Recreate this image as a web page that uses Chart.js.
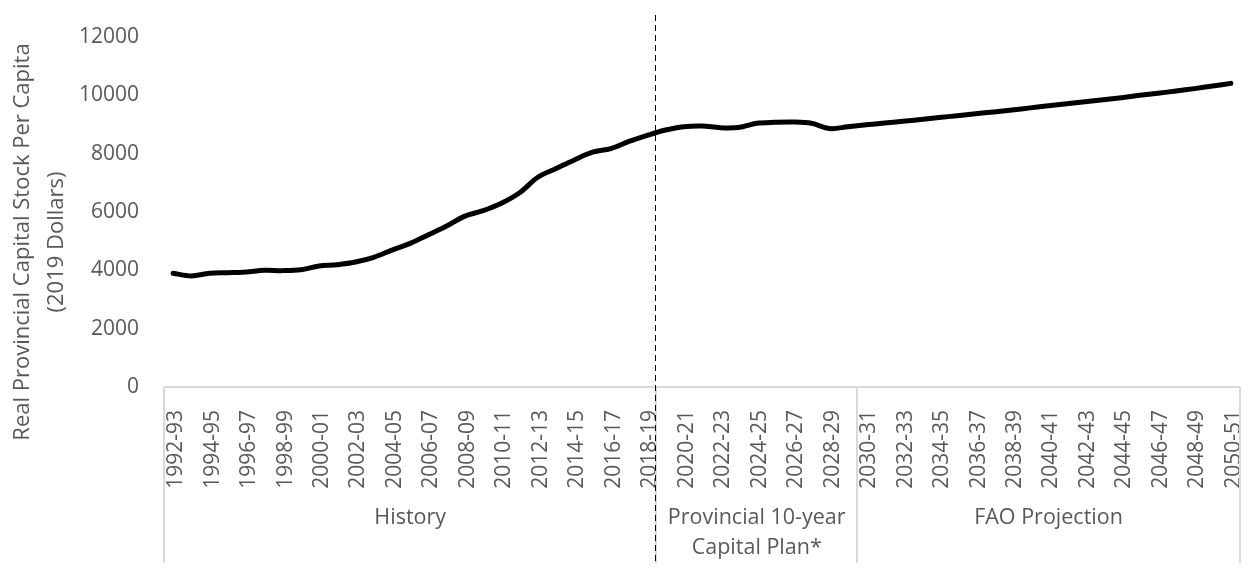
<!DOCTYPE html>
<html>
<head>
<meta charset="utf-8">
<title>Real Provincial Capital Stock Per Capita</title>
<script src="https://cdn.jsdelivr.net/npm/chart.js@4.4.1/dist/chart.umd.min.js"></script>
<style>
  html, body { margin: 0; padding: 0; background: #fff; }
  #wrap { width: 1254px; height: 583px; position: relative; }
</style>
</head>
<body>
<div id="wrap"><canvas id="stockChart"></canvas></div>
<script>
// ── Data ──
const years = [
    '1992-93', '1993-94', '1994-95', '1995-96', '1996-97', '1997-98', '1998-99', '1999-00',
    '2000-01', '2001-02', '2002-03', '2003-04', '2004-05', '2005-06', '2006-07', '2007-08',
    '2008-09', '2009-10', '2010-11', '2011-12', '2012-13', '2013-14', '2014-15', '2015-16',
    '2016-17', '2017-18', '2018-19', '2019-20', '2020-21', '2021-22', '2022-23', '2023-24',
    '2024-25', '2025-26', '2026-27', '2027-28', '2028-29', '2029-30', '2030-31', '2031-32',
    '2032-33', '2033-34', '2034-35', '2035-36', '2036-37', '2037-38', '2038-39', '2039-40',
    '2040-41', '2041-42', '2042-43', '2043-44', '2044-45', '2045-46', '2046-47', '2047-48',
    '2048-49', '2049-50', '2050-51'
];

const stockPerCapita = [
    3900, 3810, 3900, 3920, 3945, 4000, 3990, 4020,
    4150, 4195, 4285, 4445, 4695, 4925, 5220, 5520,
    5860, 6045, 6300, 6660, 7190, 7490, 7785, 8050,
    8175, 8420, 8630, 8810, 8925, 8950, 8890, 8900,
    9040, 9075, 9085, 9040, 8860, 8925, 8990, 9050,
    9110, 9170, 9240, 9300, 9370, 9430, 9500, 9570,
    9640, 9710, 9780, 9850, 9920, 10000, 10070, 10150,
    10230, 10320, 10410
];

const yTicks = [0, 2000, 4000, 6000, 8000, 10000, 12000];

const groupNames = [['History'], ['Provincial 10-year', 'Capital Plan*'], ['FAO Projection']];
const groupFirst = ['1992-93', '2019-20', '2030-31'];
const groupLast = ['2018-19', '2029-30', '2050-51'];
const dividerAfter = '2018-19';

const axisTitle = ['Real Provincial Capital Stock Per Capita', '(2019 Dollars)'];

// ── Style ──
const TEXT = '#595959';
const AXIS_GREY = '#d9d9d9';
const FONT = "'Open Sans', sans-serif";

// Grouped category axis, dashed divider and the two-line y title
const groupAxisPlugin = {
    id: 'groupAxis',
    afterDraw(chart) {
        const { ctx, chartArea, scales: { x } } = chart;
        const half = (x.getPixelForValue(1) - x.getPixelForValue(0)) / 2;
        const edge = i => x.getPixelForValue(i) - half;
        const base = chartArea.bottom;
        const boxBottom = base + 176;

        ctx.save();
        ctx.strokeStyle = AXIS_GREY;
        ctx.lineWidth = 2;
        ctx.beginPath();
        ctx.moveTo(chartArea.left, base);
        ctx.lineTo(chartArea.right, base);

        const cuts = new Set();
        groupFirst.forEach((f, g) => {
            cuts.add(years.indexOf(f));
            cuts.add(years.indexOf(groupLast[g]) + 1);
        });
        cuts.forEach(i => {
            const px = Math.round(edge(i));
            ctx.moveTo(px, base);
            ctx.lineTo(px, boxBottom);
        });
        ctx.stroke();

        // group labels
        ctx.fillStyle = TEXT;
        ctx.font = `21.5px ${FONT}`;
        ctx.textAlign = 'center';
        ctx.textBaseline = 'middle';
        groupNames.forEach((lines, g) => {
            const l = edge(years.indexOf(groupFirst[g]));
            const r = edge(years.indexOf(groupLast[g]) + 1);
            lines.forEach((t, k) => ctx.fillText(t, (l + r) / 2, base + 131 + k * 30));
        });

        // dashed divider between history and plan
        const dx = Math.round(edge(years.indexOf(dividerAfter) + 1)) - 0.5;
        ctx.strokeStyle = '#000';
        ctx.lineWidth = 1;
        ctx.setLineDash([6, 4]);
        ctx.beginPath();
        ctx.moveTo(dx, 15);
        ctx.lineTo(dx, boxBottom + 2);
        ctx.stroke();
        ctx.setLineDash([]);

        // y axis title
        const midY = (chartArea.top + chartArea.bottom) / 2 + 30;
        ctx.font = `22px ${FONT}`;
        [23, 57].forEach((tx, k) => {
            ctx.save();
            ctx.translate(tx, midY);
            ctx.rotate(-Math.PI / 2);
            ctx.fillText(axisTitle[k], 0, 0);
            ctx.restore();
        });
        ctx.restore();
    }
};

const ctx = document.getElementById('stockChart').getContext('2d');
new Chart(ctx, {
    type: 'line',
    data: {
        labels: years,
        datasets: [{
            label: 'Real Provincial Capital Stock Per Capita',
            data: stockPerCapita,
            borderColor: '#000',
            borderWidth: 5,
            pointRadius: 0,
            borderCapStyle: 'round',
            borderJoinStyle: 'round',
            tension: 0.35,
            fill: false
        }]
    },
    options: {
        responsive: true, maintainAspectRatio: false,
        animation: false,
        layout: { padding: { top: 37, right: 14, left: 0, bottom: 0 } },
        plugins: { legend: { display: false }, tooltip: { enabled: false } },
        scales: {
            x: {
                type: 'category',
                offset: true,
                grid: { display: false },
                border: { display: false },
                ticks: {
                    autoSkip: false, maxRotation: 90, minRotation: 90, padding: 15,
                    labelOffset: 3,
                    color: TEXT, font: { family: FONT, size: 21 },
                    callback: (v, i) => (i % 2 === 0 ? years[i] : '')
                },
                afterFit: s => { s.height = 196; s.paddingLeft = 0; s.paddingRight = 0; }
            },
            y: {
                min: yTicks[0], max: yTicks[yTicks.length - 1],
                grid: { display: false, drawTicks: false },
                border: { display: false },
                afterBuildTicks: s => { s.ticks = yTicks.map(v => ({ value: v })); },
                ticks: {
                    padding: 25, color: TEXT, font: { family: FONT, size: 21 },
                    callback: v => String(v)
                },
                afterFit: s => { s.width = 164; s.paddingTop = 0; s.paddingBottom = 0; }
            }
        }
    },
    plugins: [groupAxisPlugin]
});
</script>
</body>
</html>
